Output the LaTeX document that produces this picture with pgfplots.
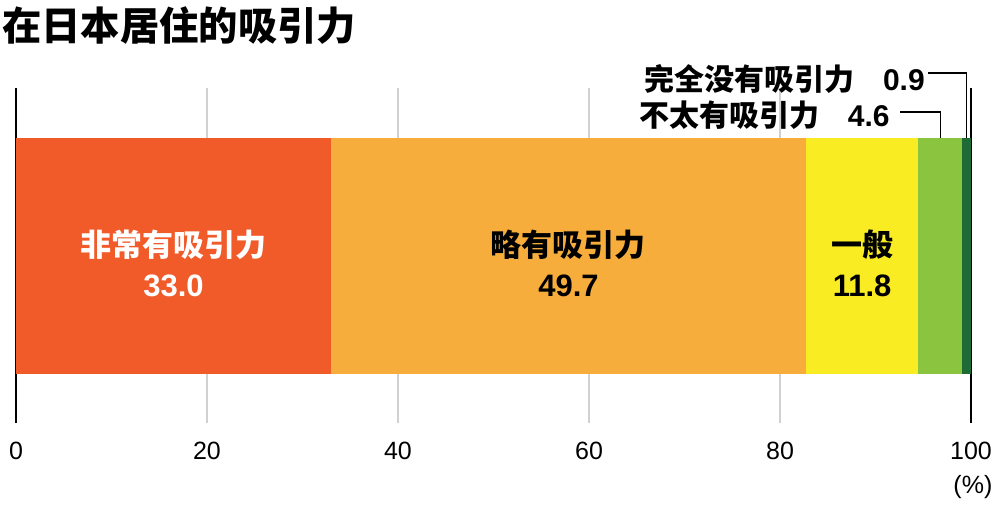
\documentclass[border=0pt]{standalone}
\usepackage{fontspec}
\setmainfont{Liberation Sans}
\newfontfamily\cjkfont{Noto Sans CJK SC}
\usepackage{pgfplots}
\pgfplotsset{compat=1.18}
\definecolor{segA}{RGB}{241,90,41}
\definecolor{segB}{RGB}{247,173,59}
\definecolor{segC}{RGB}{249,236,35}
\definecolor{segD}{RGB}{139,197,64}
\definecolor{segE}{RGB}{30,107,53}

\begin{document}
\begin{tikzpicture}
\path[use as bounding box] (0,0) rectangle (750pt,-396.75pt);
\begin{axis}[
    at={(12pt,-317.25pt)}, anchor=south west,
    scale only axis, width=716.25pt, height=251.25pt,
    xbar stacked, bar width=177pt,
    xmin=0, xmax=100, ymin=-1, ymax=1,
    axis line style={draw=none},
    major tick length=0pt,
    ytick=\empty,
    xtick={20,40,60,80},
    extra x ticks={0,100},
    extra x tick style={grid style={black, line width=1pt}},
    xmajorgrids, grid style={black!18, line width=1pt},
    xticklabel style={font=\fontsize{18.75pt}{18.75pt}\selectfont, inner sep=0pt, yshift=-14.25pt},
    /pgf/number format/assume math mode=true,
    clip=false,
]
\addplot[fill=segA, draw=none] coordinates {(33.0,0)};
\addplot[fill=segB, draw=none] coordinates {(49.7,0)};
\addplot[fill=segC, draw=none] coordinates {(11.8,0)};
\addplot[fill=segD, draw=none] coordinates {(4.6,0)};
\addplot[fill=segE, draw=none] coordinates {(0.9,0)};

\coordinate (nA) at (axis cs:16.5,0.063);
\coordinate (vA) at (axis cs:16.5,-0.242);
\coordinate (nB) at (axis cs:57.85,0.063);
\coordinate (vB) at (axis cs:57.85,-0.242);
\coordinate (nC) at (axis cs:88.6,0.063);
\coordinate (vC) at (axis cs:88.6,-0.242);
\coordinate (e0) at (axis cs:99.55,0.7045);
\coordinate (e1) at (axis cs:95.5,1.0896);
\coordinate (d0) at (axis cs:96.8,0.7045);
\coordinate (d1) at (axis cs:92.6,0.857);
\coordinate (tE) at (axis cs:95.18,0.988);
\coordinate (tD) at (axis cs:91.5,0.768);
\coordinate (pc) at (axis cs:100.2,-1.38);
\end{axis}

\node[anchor=west, inner sep=0pt, font=\cjkfont\bfseries\fontsize{29.5pt}{29.5pt}\selectfont] at (1.5pt,-19.5pt) {在日本居住的吸引力};

% labels inside the bar
\node[white, inner sep=0pt, font=\cjkfont\bfseries\fontsize{23.25pt}{23.25pt}\selectfont] at (nA) {非常有吸引力};
\node[white, anchor=base, inner sep=0pt, font=\bfseries\fontsize{23.25pt}{23.25pt}\selectfont] at (vA) {33.0};
\node[inner sep=0pt, font=\cjkfont\bfseries\fontsize{23.25pt}{23.25pt}\selectfont] at (nB) {略有吸引力};
\node[anchor=base, inner sep=0pt, font=\bfseries\fontsize{23.25pt}{23.25pt}\selectfont] at (vB) {49.7};
\node[inner sep=0pt, font=\cjkfont\bfseries\fontsize{23.25pt}{23.25pt}\selectfont] at (nC) {一般};
\node[anchor=base, inner sep=0pt, font=\bfseries\fontsize{23.25pt}{23.25pt}\selectfont] at (vC) {11.8};

% callouts for the small segments
\draw[black, line width=1pt] (e0) |- (e1);
\draw[black, line width=1pt] (d0) |- (d1);
\node[anchor=base east, inner sep=0pt, font=\bfseries\fontsize{22.5pt}{22.5pt}\selectfont] at (tE) {{\cjkfont 完全没有吸引力}\hspace{0.95em}0.9};
\node[anchor=base east, inner sep=0pt, font=\bfseries\fontsize{22.5pt}{22.5pt}\selectfont] at (tD) {{\cjkfont 不太有吸引力}\hspace{0.95em}4.6};

\node[inner sep=0pt, font=\fontsize{18.75pt}{18.75pt}\selectfont] at (pc) {(\%)};
\end{tikzpicture}
\end{document}
